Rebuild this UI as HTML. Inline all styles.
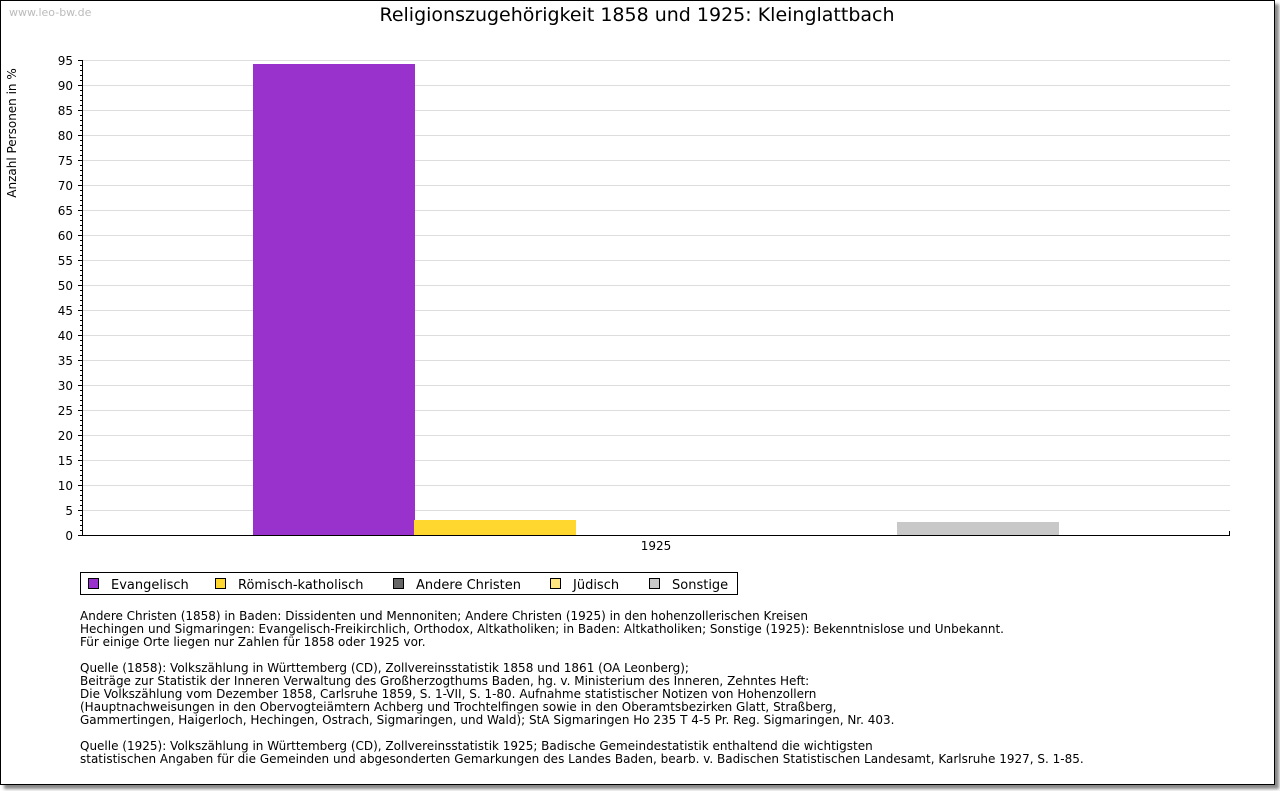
<!DOCTYPE html>
<html><head><meta charset="utf-8"><style>
body{margin:0;background:#fff;width:1280px;height:791px;overflow:hidden;font-family:"DejaVu Sans","Liberation Sans",sans-serif}
#frame{position:absolute;left:0;top:0;width:1273px;height:783px;border:1px solid #000;box-shadow:4px 4px 3px #888;background:#fff}
.notes{position:absolute;left:80px;top:610px;font-size:12px;line-height:13px;color:#000;white-space:pre}
</style></head><body>
<div id="frame"></div>
<svg id="chart" width="1280" height="791" style="position:absolute;left:0;top:0" font-family="DejaVu Sans, Liberation Sans, sans-serif">
<text x="9" y="16" font-size="11" fill="#bbb">www.leo-bw.de</text>
<text x="637" y="21" font-size="19" text-anchor="middle">Religionszugehörigkeit 1858 und 1925: Kleinglattbach</text>
<text transform="translate(16,133) rotate(-90)" font-size="12" text-anchor="middle">Anzahl Personen in %</text>
<g id="grid"></g><g id="bars"></g><g id="axes"></g>
<text x="656" y="550" font-size="12" text-anchor="middle">1925</text>
<rect x="80.5" y="572.5" width="657" height="22" fill="#fff" stroke="#000"/>
<g id="legend"></g>
</svg>
<div class="notes">Andere Christen (1858) in Baden: Dissidenten und Mennoniten; Andere Christen (1925) in den hohenzollerischen Kreisen
Hechingen und Sigmaringen: Evangelisch-Freikirchlich, Orthodox, Altkatholiken; in Baden: Altkatholiken; Sonstige (1925): Bekenntnislose und Unbekannt.
Für einige Orte liegen nur Zahlen für 1858 oder 1925 vor.

Quelle (1858): Volkszählung in Württemberg (CD), Zollvereinsstatistik 1858 und 1861 (OA Leonberg);
Beiträge zur Statistik der Inneren Verwaltung des Großherzogthums Baden, hg. v. Ministerium des Inneren, Zehntes Heft:
Die Volkszählung vom Dezember 1858, Carlsruhe 1859, S. 1-VII, S. 1-80. Aufnahme statistischer Notizen von Hohenzollern
(Hauptnachweisungen in den Obervogteiämtern Achberg und Trochtelfingen sowie in den Oberamtsbezirken Glatt, Straßberg,
Gammertingen, Haigerloch, Hechingen, Ostrach, Sigmaringen, und Wald); StA Sigmaringen Ho 235 T 4-5 Pr. Reg. Sigmaringen, Nr. 403.

Quelle (1925): Volkszählung in Württemberg (CD), Zollvereinsstatistik 1925; Badische Gemeindestatistik enthaltend die wichtigsten
statistischen Angaben für die Gemeinden und abgesonderten Gemarkungen des Landes Baden, bearb. v. Badischen Statistischen Landesamt, Karlsruhe 1927, S. 1-85.</div>
<script>
const series = ["Evangelisch","Römisch-katholisch","Andere Christen","Jüdisch","Sonstige"];
const values = [94.2, 3.0, 0, 0, 2.6];
const colors = ["#9932CC","#FFD72E","#666666","#FFE680","#C8C8C8"];
const yTicks = [0,5,10,15,20,25,30,35,40,45,50,55,60,65,70,75,80,85,90,95];
const NS="http://www.w3.org/2000/svg";
const x0=82,x1=1230,yTop=60,yBot=535,yMax=95;
const y=v=>yBot-(v/yMax)*(yBot-yTop);
function mk(tag,attrs,parent){const e=document.createElementNS(NS,tag);for(const k in attrs)e.setAttribute(k,attrs[k]);document.getElementById(parent).appendChild(e);return e;}
yTicks.forEach(t=>{
  if(t>0){const l=mk('line',{x1:x0,x2:x1,y1:y(t)+.5,y2:y(t)+.5,stroke:'#ddd'},'grid');
  
  }
  const tx=mk('text',{x:x0-9,y:y(t)+5,'font-size':12,'text-anchor':'end'},'axes');tx.textContent=t;
  
  
  mk('line',{x1:x0-4,x2:x0,y1:y(t)+.5,y2:y(t)+.5,stroke:'#000'},'axes');
});
for(let v=1;v<yMax;v++){if(v%5)mk('line',{x1:x0-2,x2:x0,y1:y(v)+.5,y2:y(v)+.5,stroke:'#000'},'axes');}
mk('line',{x1:x0+.5,x2:x0+.5,y1:yTop,y2:yBot,stroke:'#000'},'axes');
mk('line',{x1:x0,x2:x1,y1:yBot+.5,y2:yBot+.5,stroke:'#000'},'axes');
mk('line',{x1:x1-.5,x2:x1-.5,y1:yBot-4,y2:yBot,stroke:'#000'},'axes');
const bw=161,gx=253;
values.forEach((v,i)=>{
  const r=mk('rect',{x:gx+i*bw,y:y(v),width:bw+1,height:yBot-y(v),fill:colors[i]},'bars');
  
  
});
const lx=[88,215,393,550,649];
series.forEach((s,i)=>{
  const g=mk('g',{},'legend');
  
  
  const r=document.createElementNS(NS,'rect');r.setAttribute('x',lx[i]+.5);r.setAttribute('y',578.5);r.setAttribute('width',10);r.setAttribute('height',10);r.setAttribute('fill',colors[i]);r.setAttribute('stroke','#000');g.appendChild(r);
  const t=document.createElementNS(NS,'text');t.setAttribute('x',lx[i]+23);t.setAttribute('y',589);t.setAttribute('font-size',13);t.textContent=s;g.appendChild(t);
});
</script>
</body></html>
